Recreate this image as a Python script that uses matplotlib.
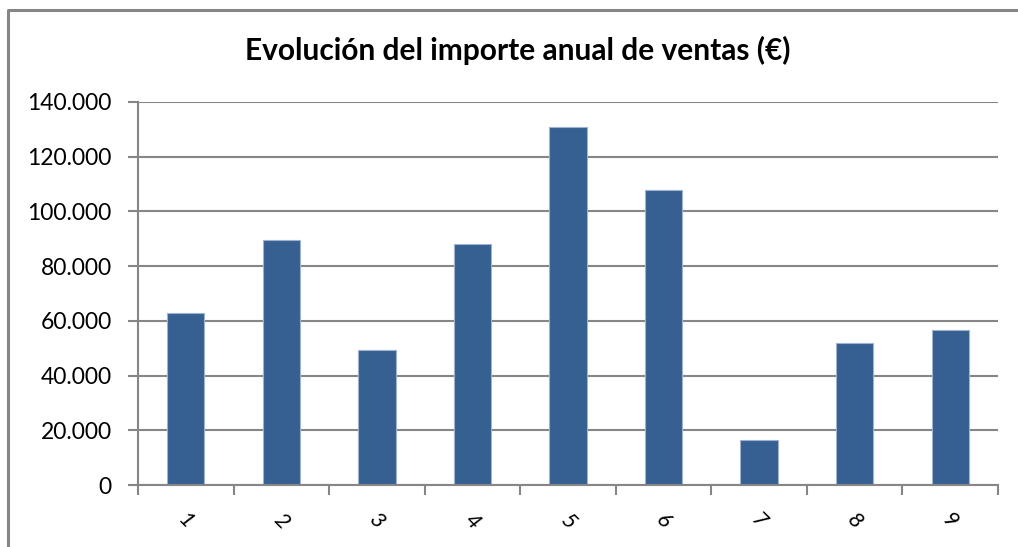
import numpy as np
import matplotlib
matplotlib.use("Agg")
from matplotlib import pyplot as plt
from matplotlib.lines import Line2D
from matplotlib.ticker import FuncFormatter

plt.rcParams['font.family'] = ['Lato', 'DejaVu Sans']

categorias = ['1', '2', '3', '4', '5', '6', '7', '8', '9']
ventas = [62800, 89600, 49300, 88100, 130800, 107700, 16400, 51800, 56600]
titulo = 'Evolución del importe anual de ventas (€)'

W, H = 1018, 547
fig = plt.figure(figsize=(W / 100, H / 100), dpi=100)
ax = fig.add_axes([138 / W, 1 - 485 / H, (998 - 138) / W, (485 - 102) / H])

gris = '#868686'
# marco exterior del grafico (solo se ve arriba y a la izquierda)
fig.lines.append(Line2D([8 / W, 8 / W, 1.0], [0.0, 1 - 10 / H, 1 - 10 / H],
                        transform=fig.transFigure, color=gris, linewidth=2.2))

x = np.arange(len(categorias))
ax.bar(x, ventas, width=0.39, color='#366092', edgecolor='#9db3d1', linewidth=0.8, zorder=3)

ax.set_xlim(-0.5, len(categorias) - 0.5)
ax.set_ylim(0, 140000)
ax.set_yticks(np.arange(0, 140001, 20000))
ax.yaxis.set_major_formatter(FuncFormatter(lambda v, p: f'{int(v):,}'.replace(',', '.')))
ax.grid(axis='y', color=gris, linewidth=1.5, zorder=0)

ax.set_xticks(np.arange(-0.5, len(categorias), 1))
ax.set_xticklabels([])
ax.set_xticks(x, minor=True)
ax.set_xticklabels(categorias, minor=True, rotation=-45, style='italic', fontsize=16,
                   ha='center', va='top')
ax.tick_params(axis='x', which='major', length=7, width=1.5, color=gris, direction='out')
ax.tick_params(axis='x', which='minor', length=0, pad=18)
ax.tick_params(axis='y', length=7, width=1.5, color=gris, labelsize=16.5, pad=12)

for s in ['top', 'right']:
    ax.spines[s].set_visible(False)
for s in ['left', 'bottom']:
    ax.spines[s].set_color(gris)
    ax.spines[s].set_linewidth(1.5)
    ax.spines[s].set_zorder(4)

fig.text(518 / W, 1 - 50 / H, titulo, ha='center', va='center', fontsize=21.5, fontweight='bold')

fig.savefig('out.png', dpi=100)
